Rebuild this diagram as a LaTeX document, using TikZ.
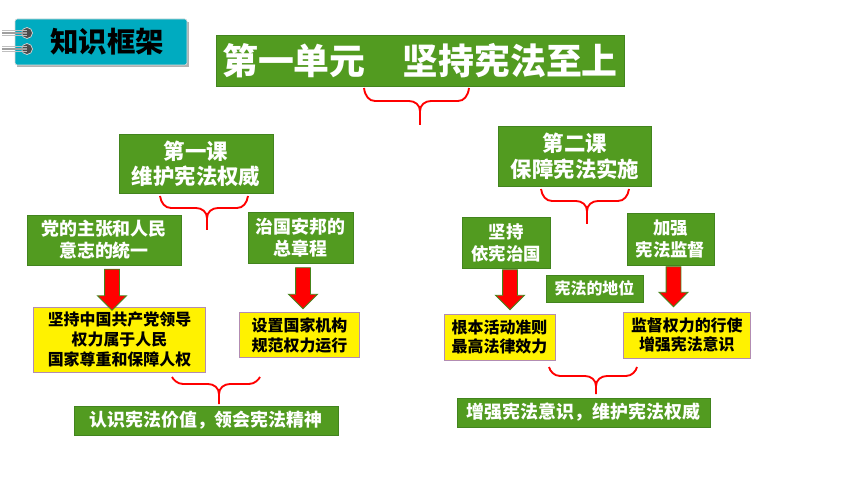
\documentclass[tikz,border=0pt]{standalone}
\usepackage{fontspec}
\usetikzlibrary{shapes.arrows}
\newfontfamily\cjk{Noto Sans CJK SC}
\newcommand{\px}{0.03cm}
\newcommand{\fs}[2]{\pgfmathsetmacro\fsa{#1*0.85}\pgfmathsetmacro\fsb{#2*0.85}\fontsize{\fsa}{\fsb}\selectfont\cjk\bfseries}
\definecolor{leaf}{RGB}{82,155,32}
\definecolor{leafdark}{RGB}{66,132,30}
\definecolor{tagblue}{RGB}{0,171,192}
\definecolor{mauve}{RGB}{178,140,178}
\tikzset{
    boxsize/.style 2 args={minimum width=#1*\px,minimum height=#2*\px,inner sep=0pt,outer sep=0pt,align=center},
    greenbox/.style={draw=leafdark,line width=0.8pt,fill=leaf,text=white},
    yellowbox/.style={draw=mauve,line width=0.8pt,fill=yellow,text=black},
    redarrow/.style={single arrow,draw=leaf!85!black,line width=0.8pt,fill=red,rotate=-90,inner sep=0pt,outer sep=0pt,
        text height=0.42cm,text depth=0pt,
        single arrow head extend=7*\px,single arrow head indent=0pt,minimum height=#1*\px},
    redbrace/.style={draw=red,line width=1.6pt,line join=round},
}
\begin{document}
\begin{tikzpicture}[x=0.03cm,y=-0.03cm]
    \useasboundingbox (0,0) rectangle (860,484);
    % tag top left
    \fill[gray!60] (17,22) rectangle (188.5,67.5);
    \node[boxsize={172}{46},draw=gray!30,line width=0.5pt,fill=tagblue,rounded corners=2pt,text=black,font=\fs{28.5}{32}] (tag) at (101,42) {\hspace*{0.36cm}\raisebox{-0.06cm}{知识框架}};
    \foreach \y in {33,49}{
        \fill[gray!60!black] (27,\y) circle (5.5);
        \draw[gray!30,line width=0.6pt] (27,\y) circle (5.5);
        \foreach \d/\c in {-2.5/gray!50,0/gray!75,2.5/gray!50}{
            \draw[\c,line width=1.4pt] (2,\y+\d)--(27,\y+\d);
        }
    }
    % title and the two lessons
    \node[greenbox,boxsize={408}{51},font=\fs{36}{40}] (unit) at (420,60.5) {第一单元\hspace{1.11cm}坚持宪法至上};
    \node[greenbox,boxsize={154}{59},font=\fs{21.5}{25}] (lessonone) at (196,163.5) {第一课\\维护宪法权威};
    \node[greenbox,boxsize={153}{60},font=\fs{21.5}{26}] (lessontwo) at (575,156) {第二课\\保障宪法实施};
    % second row
    \node[greenbox,boxsize={154}{50},font=\fs{18}{22}] (party) at (104,240) {党的主张和人民\\意志的统一};
    \node[greenbox,boxsize={105}{51},font=\fs{18}{22}] (program) at (300.5,237.5) {治国安邦的\\总章程};
    \node[greenbox,boxsize={88}{51},font=\fs{17.5}{22}] (rule) at (506,242.5) {坚持\\依宪治国};
    \node[greenbox,boxsize={87}{52},font=\fs{17.5}{22}] (watch) at (670.5,239) {加强\\宪法监督};
    \node[greenbox,boxsize={97}{27},font=\fs{16}{20}] (status) at (594.5,288.5) {宪法的地位};
    % yellow row
    \node[yellowbox,boxsize={171.5}{65},font=\fs{16}{19.7}] (leadbox) at (119.5,339.5) {坚持中国共产党领导\\权力属于人民\\国家尊重和保障人权};
    \node[yellowbox,boxsize={120}{45.5},font=\fs{16}{19.7}] (organbox) at (299.5,335.2) {设置国家机构\\规范权力运行};
    \node[yellowbox,boxsize={111}{46},font=\fs{16}{19.7}] (normbox) at (499.5,337) {根本活动准则\\最高法律效力};
    \node[yellowbox,boxsize={127.5}{46},font=\fs{16}{19.7}] (powerbox) at (686.8,335) {监督权力的行使\\增强宪法意识};
    % bottom row
    \node[greenbox,boxsize={264}{29},font=\fs{18}{22}] (valuebox) at (206,420.5) {认识宪法价值，领会宪法精神};
    \node[greenbox,boxsize={253}{29},font=\fs{18}{22}] (guardbox) at (583.5,412.5) {增强宪法意识，维护宪法权威};
    % arrows
    \node[redarrow=41] (arrowone) at (112,286) {};
    \node[redarrow=41] (arrowtwo) at (303,284.5) {};
    \node[redarrow=40] (arrowthree) at (510,286) {};
    \node[redarrow=40] (arrowfour) at (673.5,283) {};
    % braces
    \foreach \nm/\xl/\xr/\xm/\yt/\yh/\yb in {a/364/469/420/88/101/125,b/160/248/207/196/208/230,c/541/629/587/189/201/224,d/172/260/219/377/384/404,e/549/637/596/367/376/394}{
        \coordinate (\nm left) at (\xl,\yt);
        \coordinate (\nm right) at (\xr,\yt);
        \coordinate (\nm tip) at (\xm,\yb);
        \draw[redbrace] (\nm left) .. controls (\xl+1,\yh-5) and (\xl+5,\yh) .. (\xl+11,\yh) -- (\xm-11,\yh) .. controls (\xm-5,\yh) and (\xm,\yh+4) .. (\xm,\yh+10) -- (\nm tip);
        \draw[redbrace] (\nm right) .. controls (\xr-1,\yh-5) and (\xr-5,\yh) .. (\xr-11,\yh) -- (\xm+11,\yh) .. controls (\xm+5,\yh) and (\xm,\yh+4) .. (\xm,\yh+10);
    }
\end{tikzpicture}
\end{document}
